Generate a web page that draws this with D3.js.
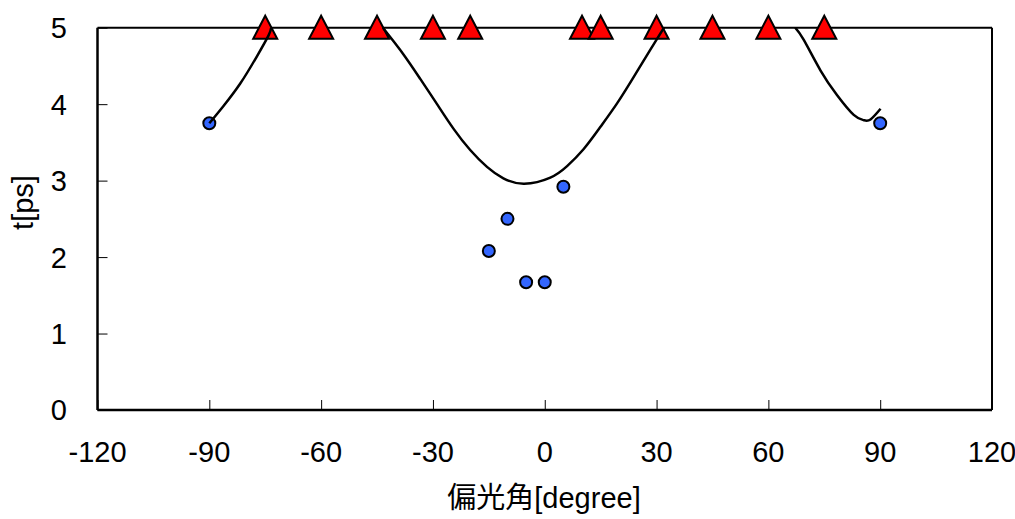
<!DOCTYPE html>
<html>
<head>
<meta charset="utf-8">
<script src="https://cdn.jsdelivr.net/npm/d3@7"></script>
<style>
  html, body { margin: 0; padding: 0; background: #fff; }
  svg { display: block; }
  text { font-family: "Liberation Sans", Arial, "Noto Sans CJK JP", sans-serif; fill: #000; }
</style>
</head>
<body>
<svg id="chart" width="1015" height="519"></svg>
<script>
// Measured points (blue circles)
const measAngle = [-90, -15, -10, -5, 0, 5, 90];
const measTime  = [3.75, 2.08, 2.5, 1.67, 1.67, 2.92, 3.75];

// Points at the upper limit (red triangles)
const limitAngle = [-75, -60, -45, -30, -20, 10, 15, 30, 45, 60, 75];
const limitTime  = [5, 5, 5, 5, 5, 5, 5, 5, 5, 5, 5];

// Fitted curve, drawn in three visible pieces below t = 5
const fitAngle1 = [-90, -86.3, -81.7, -77.3, -74.1, -73.4];
const fitTime1  = [3.75, 3.97, 4.27, 4.62, 4.90, 5.0];
const fitAngle2 = [-43.4, -42, -37.9, -33.4, -28.9, -24.5, -20, -15.5, -11.1, -5.5, 1.5, 6, 10.4, 14.9, 19.4, 23.8, 28.3, 32];
const fitTime2  = [5.0, 4.91, 4.65, 4.33, 4.00, 3.68, 3.40, 3.18, 3.03, 2.96, 3.04, 3.19, 3.41, 3.70, 4.01, 4.35, 4.71, 5.0];
const fitAngle3 = [67.2, 69.5, 74, 78.4, 82.9, 85.6, 87.4, 90.1];
const fitTime3  = [5.0, 4.84, 4.44, 4.12, 3.86, 3.79, 3.80, 3.94];

// Axis ticks
const xTicks = [-120, -90, -60, -30, 0, 30, 60, 90, 120];
const yTicks = [0, 1, 2, 3, 4, 5];

const xLabel = "偏光角[degree]";
const yLabel = "t[ps]";

const svg = d3.select("#chart");
const plotL = 97.5, plotR = 992, plotT = 27.7, plotB = 410;

const x = d3.scaleLinear().domain([-120, 120]).range([plotL, plotR]);
const y = d3.scaleLinear().domain([0, 5]).range([plotB, plotT]);

// Frame: top and right borders
svg.append("line").attr("x1", plotL).attr("x2", plotR).attr("y1", plotT).attr("y2", plotT)
  .attr("stroke", "#000").attr("stroke-width", 2);
svg.append("line").attr("x1", plotR).attr("x2", plotR).attr("y1", plotT).attr("y2", plotB)
  .attr("stroke", "#000").attr("stroke-width", 2);

// Bottom axis with inward ticks
const xAxis = svg.append("g").attr("transform", `translate(0,${plotB})`)
  .call(d3.axisTop(x).tickValues(xTicks).tickSize(10).tickFormat(""));
xAxis.select(".domain").attr("stroke-width", 2.5).attr("d", `M${plotL},0H${plotR}`);
xAxis.selectAll(".tick line").attr("stroke-width", 1);
svg.append("g").selectAll("text").data(xTicks).join("text")
  .attr("x", d => x(d)).attr("y", 462)
  .attr("text-anchor", "middle").attr("font-size", 29)
  .text(d => d < 0 ? "-" + Math.abs(d) : String(d));

// Left axis with inward ticks
const yAxis = svg.append("g").attr("transform", `translate(${plotL},0)`)
  .call(d3.axisRight(y).tickValues(yTicks).tickSize(10).tickFormat(""));
yAxis.select(".domain").attr("stroke-width", 2.5).attr("d", `M0,${plotT}V${plotB}`);
yAxis.selectAll(".tick line").attr("stroke-width", 1);
svg.append("g").selectAll("text").data(yTicks).join("text")
  .attr("x", 67).attr("y", d => y(d))
  .attr("dy", "0.36em")
  .attr("text-anchor", "end").attr("font-size", 29)
  .text(d => String(d));

// Axis titles
svg.append("text").attr("x", 544).attr("y", 508)
  .attr("text-anchor", "middle").attr("font-size", 29).text(xLabel);
svg.append("text").attr("transform", "translate(33,202.5) rotate(-90)")
  .attr("text-anchor", "middle").attr("font-size", 29).text(yLabel);

// Red triangles
const tri = "M0,-12L12,11L-12,11Z";
svg.append("g").selectAll("path").data(limitAngle.map((a, i) => [a, limitTime[i]])).join("path")
  .attr("d", tri)
  .attr("transform", d => `translate(${x(d[0])},${y(d[1])})`)
  .attr("fill", "#ff0000").attr("stroke", "#000").attr("stroke-width", 2)
  .attr("stroke-linejoin", "miter");

// Blue circles
svg.append("g").selectAll("circle").data(measAngle.map((a, i) => [a, measTime[i]])).join("circle")
  .attr("cx", d => x(d[0])).attr("cy", d => y(d[1])).attr("r", 6)
  .attr("fill", "#3366ff").attr("stroke", "#000").attr("stroke-width", 2);

// Fitted curve
svg.append("clipPath").attr("id", "plotClip").append("rect")
  .attr("x", plotL).attr("y", plotT).attr("width", plotR - plotL + 20).attr("height", plotB - plotT);
const line = d3.line().x(d => x(d[0])).y(d => y(d[1])).curve(d3.curveNatural);
const segs = [
  fitAngle1.map((a, i) => [a, fitTime1[i]]),
  fitAngle2.map((a, i) => [a, fitTime2[i]]),
  fitAngle3.map((a, i) => [a, fitTime3[i]])
];
svg.append("g").attr("clip-path", "url(#plotClip)").selectAll("path").data(segs).join("path")
  .attr("d", line).attr("fill", "none").attr("stroke", "#000").attr("stroke-width", 2.5);
</script>
</body>
</html>
